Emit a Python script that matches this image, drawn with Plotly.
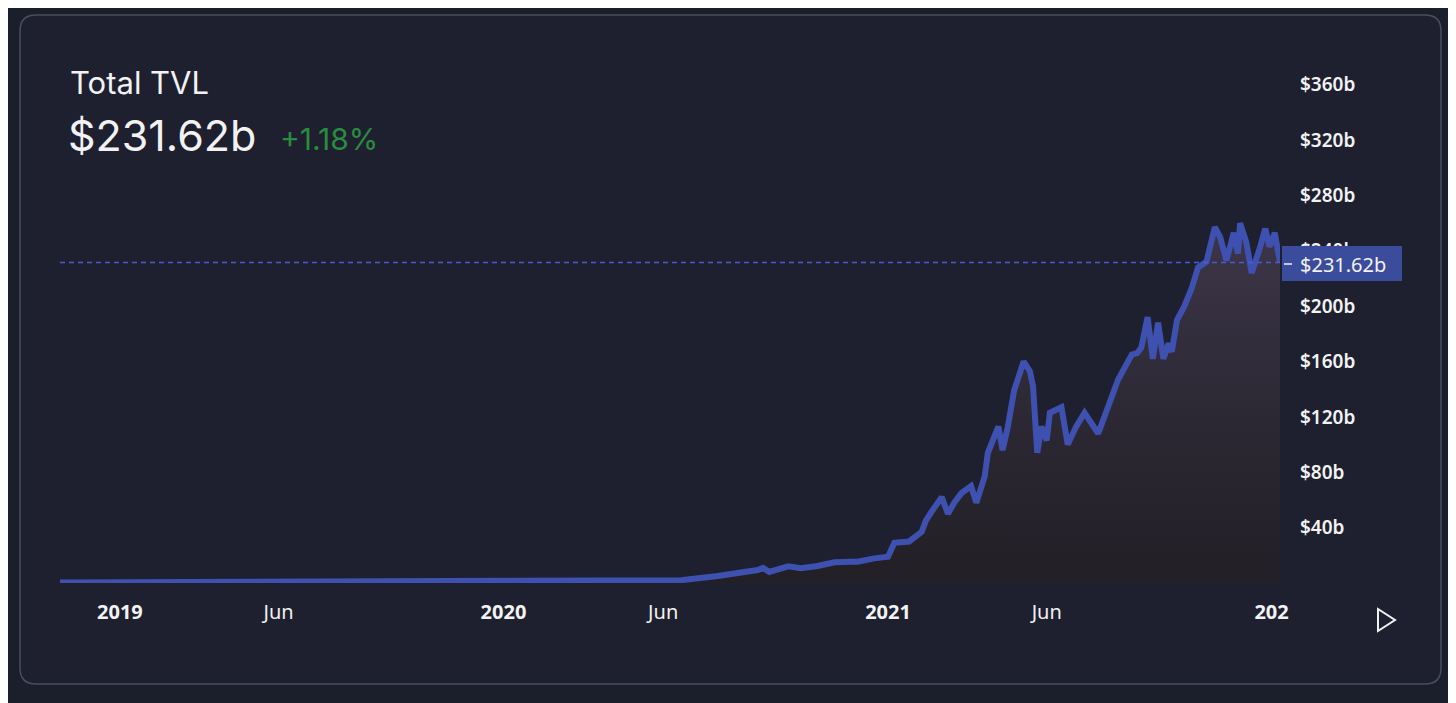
import plotly.graph_objects as go

# ---- data ----
dates = [
    "2018-11-05", "2019-01-01", "2019-03-18", "2019-06-22", "2019-09-25", "2019-12-29",
    "2020-04-03", "2020-06-18", "2020-07-23", "2020-08-14", "2020-08-30", "2020-09-04",
    "2020-09-10", "2020-09-28", "2020-10-10", "2020-10-26", "2020-11-11", "2020-11-27",
    "2020-12-03", "2020-12-19", "2021-01-01", "2021-01-07", "2021-01-21", "2021-02-02",
    "2021-02-06", "2021-02-11", "2021-02-21", "2021-02-27", "2021-03-05", "2021-03-12",
    "2021-03-21", "2021-03-26",
    "2021-04-03", "2021-04-06", "2021-04-16", "2021-04-20", "2021-04-25", "2021-05-01",
    "2021-05-10", "2021-05-16", "2021-05-19", "2021-05-23", "2021-05-27", "2021-06-01",
    "2021-06-04", "2021-06-15", "2021-06-21", "2021-06-29", "2021-07-07", "2021-07-20",
    "2021-07-30", "2021-08-08", "2021-08-21", "2021-08-26", "2021-08-30", "2021-09-05",
    "2021-09-10", "2021-09-15", "2021-09-20", "2021-09-25", "2021-09-28", "2021-10-03",
    "2021-10-10", "2021-10-17", "2021-10-23", "2021-10-31", "2021-11-08", "2021-11-13",
    "2021-11-19", "2021-11-26", "2021-11-30", "2021-12-02", "2021-12-08", "2021-12-13",
    "2021-12-20", "2021-12-26", "2021-12-30", "2022-01-04", "2022-01-09",
]
tvl_b = [
    0.4, 0.5, 0.5, 0.6, 0.6, 0.7,
    0.9, 2.0, 5.0, 7.0, 9.4, 11.0,
    8.0, 12.0, 10.6, 12.3, 15.0, 15.4,
    15.4, 17.8, 19.0, 29.0, 30.0, 37.0,
    45.0, 51.0, 62.0, 50.0, 58.0, 65.0,
    70.0, 58.0,
    77.0, 94.0, 113.0, 96.0, 113.0, 139.0,
    160.0, 153.0, 142.0, 94.0, 113.0, 103.0,
    123.0, 127.0, 100.0, 113.0, 123.0, 108.0,
    130.0, 147.0, 165.0, 166.0, 170.0, 192.0,
    162.0, 188.0, 162.0, 173.0, 167.0, 190.0,
    200.0, 213.0, 228.0, 232.0, 257.0, 250.0,
    233.0, 253.0, 238.0, 260.0, 246.0, 224.0,
    240.0, 256.0, 243.0, 253.0, 231.62,
]
y_tick_vals = [40, 80, 120, 160, 200, 240, 280, 320, 360]
y_tick_text = ["$40b", "$80b", "$120b", "$160b", "$200b", "$240b", "$280b", "$320b", "$360b"]
x_tick_vals = ["2019-01-01", "2019-06-01", "2020-01-01", "2020-06-01", "2021-01-01", "2021-06-01", "2022-01-01"]
x_tick_text = ["<b>2019</b>", "Jun", "<b>2020</b>", "Jun", "<b>2021</b>", "Jun", "<b>202</b>"]
title_text = "Total TVL"
current_value = 231.62
current_text = "$231.62b"
change_text = "+1.18%"

# ---- layout geometry (target page pixels) ----
OFF = 8  # page body margin
W, H = 1456 - OFF, 703 - OFF
PL, PR, PT, PB = 60, 1280, 57, 583


def px(X):
    return (X - PL) / (PR - PL)


def py(Y):
    return (PB - Y) / (PB - PT)


LINE = "#3f51b0"
WHITE = "#f2f2f2"

fig = go.Figure()
fig.add_trace(go.Scatter(
    x=dates, y=tvl_b, mode="lines",
    line=dict(color=LINE, width=6, shape="linear"),
    fill="tozeroy",
    fillgradient=dict(type="vertical", start=0, stop=260,
                      colorscale=[[0, "#221f26"], [0.5, "#2d2935"], [1, "#3d3649"]]),
    hoverinfo="skip", showlegend=False,
))

# dashed current-value line
fig.add_trace(go.Scatter(
    x=[dates[0], dates[-1]], y=[current_value, current_value], mode="lines",
    line=dict(color="#4b5bd6", width=1.5, dash="5px,4px"),
    hoverinfo="skip", showlegend=False,
))

# card (rounded rect) in paper coords
cx0, cx1, cy0, cy1, r = 20, 1441, 15, 684, 16
rx = r / (PR - PL)
ry = r / (PB - PT)
X0, X1, Y0, Y1 = px(cx0), px(cx1), py(cy1), py(cy0)
card_path = (
    f"M {X0+rx},{Y0} L {X1-rx},{Y0} Q {X1},{Y0} {X1},{Y0+ry} "
    f"L {X1},{Y1-ry} Q {X1},{Y1} {X1-rx},{Y1} "
    f"L {X0+rx},{Y1} Q {X0},{Y1} {X0},{Y1-ry} "
    f"L {X0},{Y0+ry} Q {X0},{Y0} {X0+rx},{Y0} Z"
)
shapes = [
    dict(type="path", path=card_path, xref="paper", yref="paper",
         fillcolor="#1e2030", line=dict(color="#4a4e5e", width=1.5), layer="below"),
    # current value box
    dict(type="rect", xref="paper", yref="paper",
         x0=px(1282), x1=px(1402), y0=py(281), y1=py(246),
         fillcolor="#3b4c9c", line=dict(width=0), layer="above"),
    dict(type="line", xref="paper", yref="paper",
         x0=px(1284), x1=px(1292), y0=py(264), y1=py(264),
         line=dict(color=WHITE, width=1.5), layer="above"),
    # play triangle
    dict(type="path", xref="paper", yref="paper",
         path=f"M {px(1378)},{py(609)} L {px(1395)},{py(620)} L {px(1378)},{py(631)} Z",
         line=dict(color=WHITE, width=2), fillcolor="rgba(0,0,0,0)", layer="above"),
]

annotations = [
    dict(text=title_text, x=px(68), y=py(82), xref="paper", yref="paper",
         xanchor="left", yanchor="middle", showarrow=False,
         font=dict(family="Inter", size=31, color=WHITE)),
    dict(text=current_text, x=px(66), y=py(135), xref="paper", yref="paper",
         xanchor="left", yanchor="middle", showarrow=False,
         font=dict(family="Inter", size=43, color=WHITE)),
    dict(text=change_text, x=px(278), y=py(139), xref="paper", yref="paper",
         xanchor="left", yanchor="middle", showarrow=False,
         font=dict(family="Inter", size=30, color="#2a8c3e")),
    dict(text=current_text, x=px(1298), y=py(264), xref="paper", yref="paper",
         xanchor="left", yanchor="middle", showarrow=False,
         font=dict(family="Noto Sans", size=20, color=WHITE)),
]

fig.update_layout(
    width=W, height=H,
    margin=dict(l=PL - OFF, r=W - (PR - OFF), t=PT - OFF, b=H - (PB - OFF), pad=0),
    paper_bgcolor="#1b1e2b", plot_bgcolor="rgba(0,0,0,0)",
    shapes=shapes, annotations=annotations,
    hovermode=False, showlegend=False,
    xaxis=dict(
        range=[dates[0], dates[-1]], tickmode="array",
        tickvals=x_tick_vals, ticktext=x_tick_text,
        showgrid=False, zeroline=False, showline=False, ticks="",
        ticklabelstandoff=15,
        tickfont=dict(family="Noto Sans", size=20, color=WHITE),
    ),
    yaxis=dict(
        range=[0, 380], side="right", tickmode="array",
        tickvals=y_tick_vals, ticktext=y_tick_text,
        showgrid=False, zeroline=False, showline=False, ticks="",
        ticklabelstandoff=19,
        tickfont=dict(family="Noto Sans", size=19, color=WHITE, weight=600),
    ),
)

fig.write_html("out.html", config={"displayModeBar": False})
